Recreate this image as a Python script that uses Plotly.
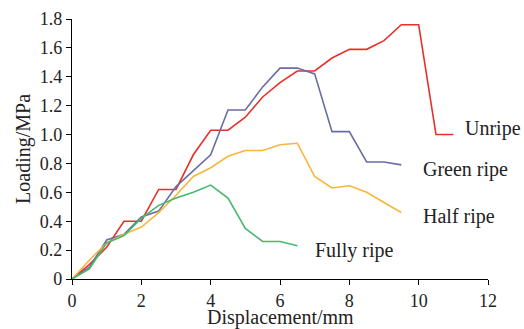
import plotly.graph_objects as go

x_unripe = [0, 0.5, 1, 1.5, 2, 2.5, 3, 3.5, 4, 4.5, 5, 5.5, 6, 6.5, 7, 7.5, 8, 8.5, 9, 9.5, 10, 10.5, 11]
y_unripe = [0, 0.10, 0.22, 0.40, 0.40, 0.62, 0.62, 0.86, 1.03, 1.03, 1.12, 1.26, 1.36, 1.44, 1.44, 1.53, 1.59, 1.59, 1.65, 1.76, 1.76, 1.00, 1.00]

x_green = [0, 0.5, 1, 1.5, 2, 2.5, 3, 3.5, 4, 4.5, 5, 5.5, 6, 6.5, 7, 7.5, 8, 8.5, 9, 9.5]
y_green = [0, 0.08, 0.27, 0.31, 0.43, 0.47, 0.64, 0.75, 0.86, 1.17, 1.17, 1.33, 1.46, 1.46, 1.42, 1.02, 1.02, 0.81, 0.81, 0.79]

x_half = [0, 0.5, 1, 1.5, 2, 2.5, 3, 3.5, 4, 4.5, 5, 5.5, 6, 6.5, 7, 7.5, 8, 8.5, 9, 9.5]
y_half = [0, 0.13, 0.25, 0.31, 0.36, 0.46, 0.58, 0.71, 0.77, 0.85, 0.89, 0.89, 0.93, 0.94, 0.71, 0.63, 0.645, 0.60, 0.53, 0.46]

x_fully = [0, 0.5, 1, 1.5, 2, 2.5, 3, 3.5, 4, 4.5, 5, 5.5, 6, 6.5]
y_fully = [0, 0.07, 0.25, 0.30, 0.42, 0.51, 0.56, 0.60, 0.65, 0.56, 0.35, 0.26, 0.26, 0.23]

series_names = ["Unripe", "Green ripe", "Half ripe", "Fully ripe"]
colors = ["#e8302a", "#6a6ca6", "#f7b63c", "#45b96e"]
label_x = [11.3, 10.1, 10.1, 6.98]
label_y = [1.045, 0.76, 0.43, 0.2]

x_ticks = [0, 2, 4, 6, 8, 10, 12]
y_ticks = [0, 0.2, 0.4, 0.6, 0.8, 1.0, 1.2, 1.4, 1.6, 1.8]
y_ticktext = ["0", "0.2", "0.4", "0.6", "0.8", "1.0", "1.2", "1.4", "1.6", "1.8"]

FONT = "Liberation Serif, Times New Roman, serif"
TXT = "#222222"
FS = 20
TICK_FS = 18

fig = go.Figure()
data = [(x_unripe, y_unripe), (x_green, y_green), (x_half, y_half), (x_fully, y_fully)]
for (xs, ys), name, c in zip(data, series_names, colors):
    fig.add_trace(go.Scatter(x=xs, y=ys, mode="lines", name=name,
                             line=dict(color=c, width=1.6), showlegend=False))

for name, lx, ly in zip(series_names, label_x, label_y):
    fig.add_annotation(x=lx, y=ly, text=name, showarrow=False, xanchor="left",
                       yanchor="middle", borderpad=0, font=dict(family=FONT, size=FS, color=TXT))

# axis titles
fig.add_annotation(x=0.5, y=-0.148, xref="paper", yref="paper", text="Displacement/mm",
                   showarrow=False, xanchor="center", yanchor="middle",
                   font=dict(family=FONT, size=FS, color=TXT))
fig.add_annotation(x=-0.118, y=0.5, xref="paper", yref="paper", text="Loading/MPa",
                   showarrow=False, xanchor="center", yanchor="middle", textangle=-90,
                   font=dict(family=FONT, size=FS, color=TXT))

fig.update_layout(
    width=524, height=329,
    margin=dict(l=72, r=36, t=19, b=50, autoexpand=False),
    plot_bgcolor="white", paper_bgcolor="white",
    font=dict(family=FONT, size=FS, color=TXT),
)
fig.update_xaxes(range=[0, 12], tickvals=x_ticks, showgrid=False, zeroline=False,
                 showline=True, linecolor="black", linewidth=1.2, automargin=False,
                 ticks="outside", ticklen=5, tickcolor="black", tickfont=dict(size=TICK_FS))
fig.update_yaxes(range=[0, 1.8], tickvals=y_ticks, ticktext=y_ticktext, showgrid=False,
                 zeroline=False, showline=True, linecolor="black", linewidth=1.2, automargin=False,
                 ticks="outside", ticklen=5, tickcolor="black", tickfont=dict(size=TICK_FS))

# remove the browser's default 8px body margin so the figure fills the window exactly
fig.write_html("out.html",
               config={"displayModeBar": False},
               post_script="document.body.style.margin='0';"
                           "document.documentElement.style.overflow='hidden';")
